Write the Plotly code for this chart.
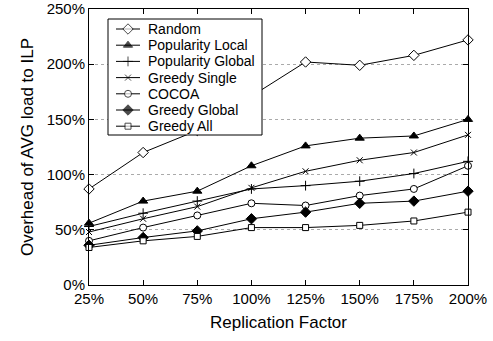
import plotly.graph_objects as go

x_vals = [25, 50, 75, 100, 125, 150, 175, 200]
x_labels = ["25%", "50%", "75%", "100%", "125%", "150%", "175%", "200%"]

random_v = [87, 120, 140, 171, 202, 199, 208, 222]
pop_local = [56, 76, 85, 108, 126, 133, 135, 150]
pop_global = [53, 65, 76, 87, 90, 94, 101, 112]
greedy_single = [48, 60, 71, 88, 103, 113, 120, 136]
cocoa = [40, 52, 63, 74, 72, 81, 87, 108]
greedy_global = [36, 43, 49, 60, 66, 74, 76, 85]
greedy_all = [34, 40, 44, 52, 52, 54, 58, 66]

y_ticks = [0, 50, 100, 150, 200, 250]
y_labels = ["0%", "50%", "100%", "150%", "200%", "250%"]

series_names = ["Random", "Popularity Local", "Popularity Global", "Greedy Single",
                "COCOA", "Greedy Global", "Greedy All"]
series_values = [random_v, pop_local, pop_global, greedy_single, cocoa,
                 greedy_global, greedy_all]
styles = [
    ("diamond", "white", 8),
    ("triangle-up", "black", 8),
    ("cross-thin", "black", 7),
    ("x-thin", "black", 6),
    ("circle", "white", 7),
    ("diamond", "black", 8),
    ("square", "white", 6),
]

W, H = 493, 341
ML, MR, MT, MB = 89, 25, 9, 56
PW, PH = W - ML - MR, H - MT - MB


def px_x(px):
    return (px - ML) / PW


def px_y(py):
    return (H - MB - py) / PH


fig = go.Figure()
for name, vals, (sym, fill, size) in zip(series_names, series_values, styles):
    fig.add_trace(go.Scatter(
        x=x_vals, y=vals, name=name, mode="lines+markers",
        line=dict(color="black", width=1),
        marker=dict(symbol=sym, color=fill, size=size,
                    line=dict(color="black", width=1)),
        cliponaxis=False, showlegend=False,
    ))

# custom legend (compact rows like the reference)
lx0, lx1, ly0, ly1 = px_x(108), px_x(262), px_y(19), px_y(135)
fig.add_trace(go.Scatter(
    x=[lx0, lx1, lx1, lx0, lx0], y=[ly0, ly0, ly1, ly1, ly0],
    mode="lines", fill="toself", fillcolor="white",
    line=dict(color="black", width=1),
    xaxis="x2", yaxis="y2", showlegend=False, hoverinfo="skip",
))
row_top, row_h = 29, 16.2
annotations = []
for i, (name, (sym, fill, size)) in enumerate(zip(series_names, styles)):
    yy = px_y(row_top + i * row_h)
    fig.add_trace(go.Scatter(
        x=[px_x(116), px_x(128), px_x(140)], y=[yy, yy, yy],
        mode="lines+markers",
        line=dict(color="black", width=1),
        marker=dict(symbol=sym, color=fill, size=[0, size, 0],
                    line=dict(color="black", width=[0, 1, 0])),
        xaxis="x2", yaxis="y2", showlegend=False, hoverinfo="skip",
    ))
    annotations.append(dict(
        x=px_x(146), y=yy, xref="x2", yref="y2", text=name,
        showarrow=False, xanchor="left", yanchor="middle",
        font=dict(size=14, color="black"),
    ))

fig.update_layout(
    width=W, height=H,
    margin=dict(l=ML, r=MR, t=MT, b=MB),
    paper_bgcolor="white", plot_bgcolor="white",
    font=dict(family="Liberation Sans, Arial, sans-serif", size=15, color="black"),
    showlegend=False,
    annotations=annotations,
    xaxis2=dict(overlaying="x", range=[0, 1], visible=False, fixedrange=True),
    yaxis2=dict(overlaying="y", range=[0, 1], visible=False, fixedrange=True),
)
fig.layout.xaxis.update(
    range=[25, 200], tickvals=x_vals, ticktext=x_labels,
    showline=True, linecolor="black", linewidth=1, mirror="ticks",
    ticks="inside", ticklen=5, tickcolor="black",
    showgrid=False, zeroline=False, automargin=False,
    tickfont=dict(size=15),
    title=dict(text="Replication Factor", font=dict(size=17), standoff=10),
)
fig.layout.yaxis.update(
    range=[0, 250], tickvals=y_ticks, ticktext=y_labels,
    showline=True, linecolor="black", linewidth=1, mirror="ticks",
    ticks="inside", ticklen=5, tickcolor="black",
    showgrid=True, gridcolor="#aaaaaa", griddash="dot", gridwidth=1,
    zeroline=False, automargin=False,
    tickfont=dict(size=15),
    title=dict(text="Overhead of AVG load to ILP", font=dict(size=17), standoff=8),
)

fig.write_html("out.html", config={"displayModeBar": False},
               post_script="document.body.style.margin='0px';")
